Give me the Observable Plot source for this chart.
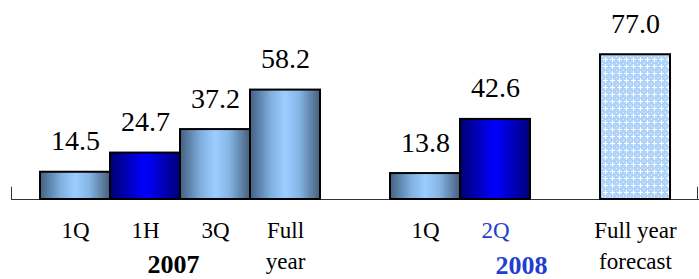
<!DOCTYPE html>
<html>
<head>
<meta charset="utf-8">
<script src="https://cdn.jsdelivr.net/npm/d3@7"></script>
<script src="https://cdn.jsdelivr.net/npm/@observablehq/plot@0.6"></script>
<style>
  html, body { margin: 0; padding: 0; background: white; }
  svg { display: block; }
  svg, svg text { font-family: "Liberation Serif", "Times New Roman", Times, serif !important; }
</style>
</head>
<body>
<div id="chart"></div>
<script>
// ---- data ----
const periods = ["1Q07", "1H07", "3Q07", "FY07", "gap07", "1Q08", "2Q08", "gap08", "FY08E"];
const periodLabels = ["1Q", "1H", "3Q", "Full\nyear", "", "1Q", "2Q", "", "Full year\nforecast"];
const values = [14.5, 24.7, 37.2, 58.2, null, 13.8, 42.6, null, 77.0];
const kinds = ["actual", "highlight", "actual", "actual", null, "actual", "highlight", null, "forecast"];
const currentPeriod = "2Q08";
const years = ["2007", "2008"];
const yearAnchors = ["1H07", "2Q08"];

const data = periods.map((p, i) => ({period: p, label: periodLabels[i], value: values[i], kind: kinds[i]}));
const bars = data.filter(d => d.value != null);
const serif = "'Liberation Serif', 'Times New Roman', serif";

const defsMark = () => {
  const defs = d3.create("svg:defs");
  const mk = (id, stops) => {
    const g = defs.append("linearGradient").attr("id", id).attr("x1", "0").attr("x2", "1").attr("y1", "0").attr("y2", "0");
    stops.forEach(([o, c]) => g.append("stop").attr("offset", o).attr("stop-color", c));
  };
  mk("steelGrad", [[0, "#445f80"], [0.3, "#7fb0e0"], [0.5, "#9ccdff"], [0.7, "#85b6e6"], [1, "#465f7c"]]);
  mk("navyGrad", [[0, "#000070"], [0.45, "#0000f4"], [0.55, "#0000f4"], [1, "#000078"]]);
  const pat = defs.append("pattern").attr("id", "fcPattern").attr("patternUnits", "userSpaceOnUse")
    .attr("width", 7).attr("height", 7);
  pat.append("rect").attr("width", 7).attr("height", 7).attr("fill", "#b0d3fa");
  pat.append("rect").attr("x", 3).attr("y", 1).attr("width", 1).attr("height", 5).attr("fill", "white");
  pat.append("rect").attr("x", 1).attr("y", 3).attr("width", 5).attr("height", 1).attr("fill", "white");
  pat.append("rect").attr("x", 0).attr("y", 0).attr("width", 1).attr("height", 1).attr("fill", "#e6f1fd");
  return defs.node();
};

const tickMark = (index, scales, values, dims) => {
  const g = d3.create("svg:g").attr("stroke", "#333").attr("stroke-width", 1);
  const y0 = scales.y(0), y1 = scales.y(6.5);
  [dims.marginLeft + 0.5, dims.width - dims.marginRight - 1.5].forEach(x => {
    g.append("line").attr("x1", x).attr("x2", x).attr("y1", y0).attr("y2", y1);
  });
  return g.node();
};

const chart = Plot.plot({
  width: 699,
  height: 279,
  marginLeft: 11,
  marginRight: 0,
  marginTop: 11,
  marginBottom: 80,
  x: {type: "band", domain: periods, paddingInner: 0, paddingOuter: 0.414, axis: null},
  y: {domain: [0, 100], axis: null},
  style: {fontFamily: serif, background: "white", color: "black"},
  marks: [
    defsMark,
    Plot.ruleY([0], {stroke: "#333", strokeWidth: 1}),
    tickMark,
    Plot.barY(bars.filter(d => d.kind === "actual"), {x: "period", y: "value", fill: "url(#steelGrad)", stroke: "black", strokeWidth: 2}),
    Plot.barY(bars.filter(d => d.kind === "highlight"), {x: "period", y: "value", fill: "url(#navyGrad)", stroke: "black", strokeWidth: 2}),
    Plot.barY(bars.filter(d => d.kind === "forecast"), {x: "period", y: "value", fill: "url(#fcPattern)", stroke: "black", strokeWidth: 2}),
    Plot.text(bars, {x: "period", y: "value", text: d => d3.format(".1f")(d.value), dy: -22, lineAnchor: "bottom", fontSize: 28, fontFamily: serif, fill: "black"}),
    Plot.text(data, {x: "period", text: "label", frameAnchor: "bottom", lineAnchor: "top", dy: 16, fontSize: 23, lineHeight: 1.35, fontFamily: serif,
      fill: d => d.period === currentPeriod ? "#1f3fcf" : "black"}),
    Plot.text([{year: years[0], at: yearAnchors[0]}], {x: "at", text: "year", frameAnchor: "bottom", lineAnchor: "bottom", dy: 73, dx: 28, fontSize: 26, fontWeight: "bold", fontFamily: serif, fill: "black"}),
    Plot.text([{year: years[1], at: yearAnchors[1]}], {x: "at", text: "year", frameAnchor: "bottom", lineAnchor: "bottom", dy: 74, dx: 26, fontSize: 26, fontWeight: "bold", fontFamily: serif, fill: "#1f3fcf"})
  ]
});
document.getElementById("chart").appendChild(chart);
</script>
</body>
</html>
